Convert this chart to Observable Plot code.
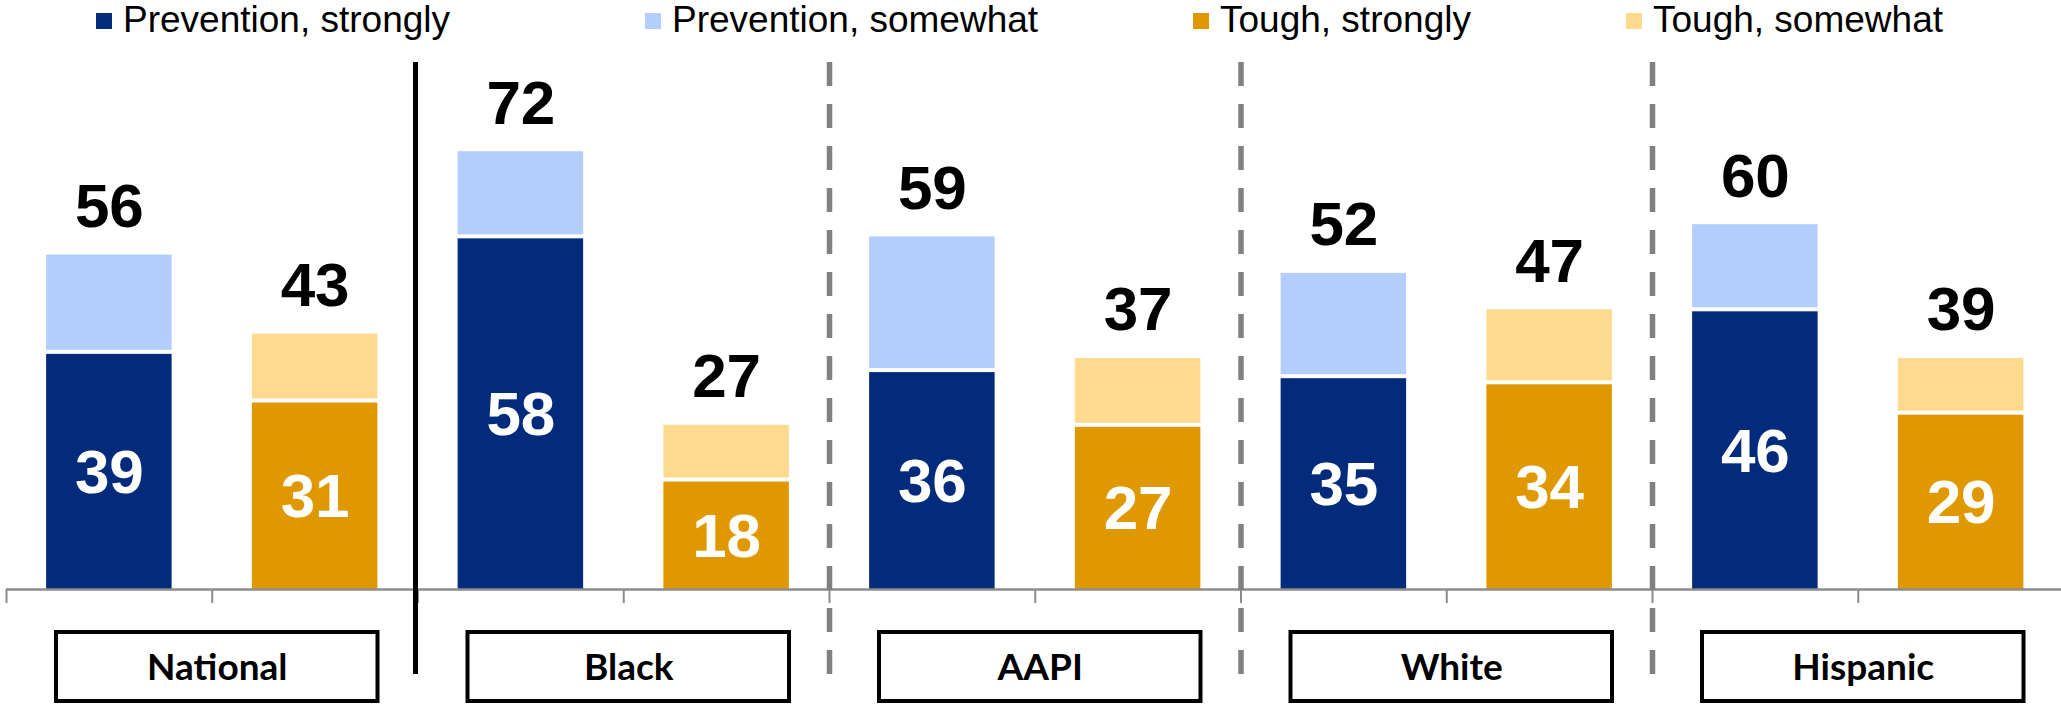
<!DOCTYPE html>
<html>
<head>
<meta charset="utf-8">
<script src="https://cdn.jsdelivr.net/npm/d3@7"></script>
<script src="https://cdn.jsdelivr.net/npm/@observablehq/plot@0.6"></script>
<style>
  html, body { margin: 0; padding: 0; background: #fff; }
  #legend { position: relative; width: 2061px; height: 40px; font-family: "Liberation Sans", Arial, sans-serif; }
  #legend .sw { position: absolute; top: 13px; width: 16px; height: 16px; }
  #legend .lb { position: absolute; top: 1px; font-size: 37px; line-height: 37px; color: #000; white-space: nowrap; }
  #chart svg { display: block; }
</style>
</head>
<body>
<div id="legend"></div>
<div id="chart"></div>
<script>
// ---- data ----
const groups = ["National", "Black", "AAPI", "White", "Hispanic"];
const seriesNames = ["Prevention, strongly", "Prevention, somewhat", "Tough, strongly", "Tough, somewhat"];
const seriesColors = ["#022B7B", "#B3CDFC", "#E09800", "#FED98E"];
const preventionStrongly = [39, 58, 36, 35, 46];
const preventionSomewhat = [16, 14, 22, 17, 14];
const toughStrongly = [31, 18, 27, 34, 29];
const toughSomewhat = [11, 9, 11, 12, 9];
const preventionTotalLabel = [56, 72, 59, 52, 60];
const toughTotalLabel = [43, 27, 37, 47, 39];

// ---- legend (HTML, above the SVG) ----
const legendLeft = [96, 645, 1193, 1626];
const legend = document.getElementById("legend");
seriesNames.forEach((name, i) => {
  const sw = document.createElement("div");
  sw.className = "sw";
  sw.style.left = legendLeft[i] + "px";
  sw.style.background = seriesColors[i];
  legend.appendChild(sw);
  const lb = document.createElement("span");
  lb.className = "lb";
  lb.style.left = (legendLeft[i] + 27) + "px";
  lb.textContent = name;
  legend.appendChild(lb);
});

// ---- build table ----
const bars = [];
groups.forEach((g, i) => {
  bars.push({group: g, slot: 2 * i, strong: preventionStrongly[i], some: preventionSomewhat[i], total: preventionTotalLabel[i], cStrong: seriesColors[0], cSome: seriesColors[1]});
  bars.push({group: g, slot: 2 * i + 1, strong: toughStrongly[i], some: toughSomewhat[i], total: toughTotalLabel[i], cStrong: seriesColors[2], cSome: seriesColors[3]});
});
const groupRows = groups.map((g, i) => ({group: g, start: 2 * i, end: 2 * i + 2, mid: 2 * i + 1}));
const boundaries = d3.range(0, 2 * groups.length + 1);

const PAD = 0.195;
const H = 666;
const numFont = "'Liberation Sans', Arial, sans-serif";

const plot = Plot.plot({
  width: 2061,
  height: H,
  marginTop: 0, marginBottom: 0, marginLeft: 0, marginRight: 0,
  x: {type: "linear", domain: [0, 10], range: [6, 2063.5], axis: null},
  y: {type: "linear", domain: [0, 100], range: [549, -59], axis: null},
  style: {background: "white"},
  marks: [
    // strongly segments
    Plot.rectY(bars, {x1: d => d.slot + PAD, x2: d => d.slot + 1 - PAD, y1: 0, y2: d => d.strong, fill: d => d.cStrong, insetTop: 2}),
    // somewhat segments
    Plot.rectY(bars, {x1: d => d.slot + PAD, x2: d => d.slot + 1 - PAD, y1: d => d.strong, y2: d => d.strong + d.some, fill: d => d.cSome, insetBottom: 2}),
    // axis line and tick marks
    Plot.ruleY([0], {x1: 0, x2: 10, stroke: "#8C8C8C", strokeWidth: 2.5}),
    Plot.ruleX(boundaries, {x: d => d, stroke: "#8C8C8C", strokeWidth: 2, insetTop: 549, insetBottom: H - 563}),
    // separators
    Plot.ruleX([2], {x: d => d, stroke: "#000", strokeWidth: 5, dx: -2.5, insetTop: 22, insetBottom: H - 634}),
    Plot.ruleX([4, 6, 8], {x: d => d, stroke: "#808080", strokeWidth: 5.5, strokeDasharray: "24,18", insetTop: 22, insetBottom: H - 634}),
    // value labels inside
    Plot.text(bars, {x: d => d.slot + 0.5, y: d => d.strong / 2, text: d => String(d.strong), fill: "white", fontSize: 62, fontWeight: "bold", fontFamily: numFont, lineAnchor: "middle", dy: 2}),
    // totals above
    Plot.text(bars, {x: d => d.slot + 0.5, y: d => d.strong + d.some, text: d => String(d.total), fill: "black", fontSize: 62, fontWeight: "bold", fontFamily: numFont, lineAnchor: "middle", dy: -48}),
    // category boxes
    Plot.rect(groupRows, {x1: d => d.start, x2: d => d.end, insetLeft: 50, insetRight: 40, insetTop: 592, insetBottom: 5, fill: "white", stroke: "black", strokeWidth: 4}),
    Plot.text(groupRows, {x: d => d.mid, text: d => d.group, frameAnchor: "top", dy: 628, dx: 5, fontSize: 37, fontWeight: "bold", fontFamily: "Lato, 'Open Sans', sans-serif", fill: "black", lineAnchor: "middle"})
  ]
});
document.getElementById("chart").appendChild(plot);
</script>
</body>
</html>
